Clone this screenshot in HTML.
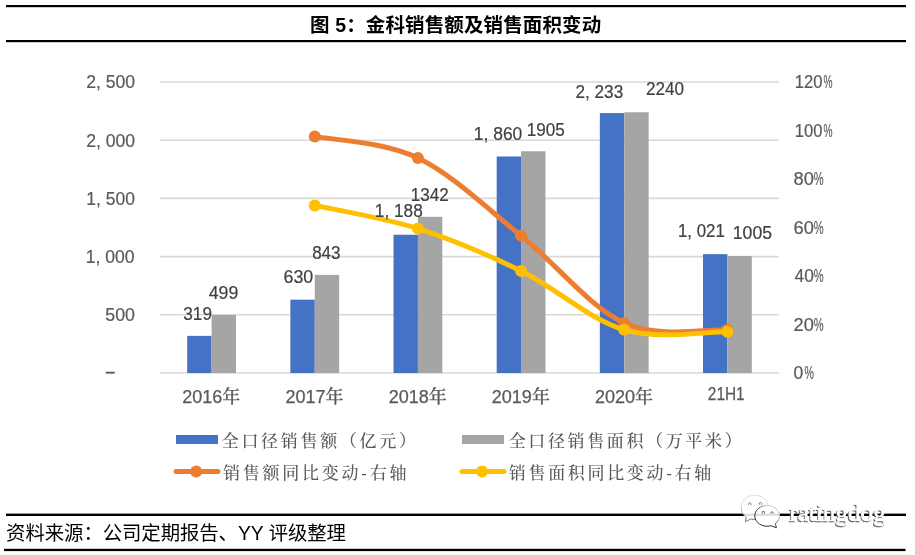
<!DOCTYPE html>
<html><head><meta charset="utf-8"><style>
html,body{margin:0;padding:0;background:#fff;}
body{width:915px;height:555px;overflow:hidden;position:relative;}
svg{position:absolute;left:0;top:0;will-change:transform;}
</style></head><body>
<svg width="915" height="555" viewBox="0 0 915 555">
<rect x="6" y="5" width="900" height="2.2" fill="#000"/>
<rect x="6" y="40" width="900" height="2.2" fill="#000"/>
<line x1="160.0" y1="82.00" x2="779.0" y2="82.00" stroke="#d9d9d9" stroke-width="1.6"/>
<line x1="160.0" y1="140.20" x2="779.0" y2="140.20" stroke="#d9d9d9" stroke-width="1.6"/>
<line x1="160.0" y1="198.40" x2="779.0" y2="198.40" stroke="#d9d9d9" stroke-width="1.6"/>
<line x1="160.0" y1="256.60" x2="779.0" y2="256.60" stroke="#d9d9d9" stroke-width="1.6"/>
<line x1="160.0" y1="314.80" x2="779.0" y2="314.80" stroke="#d9d9d9" stroke-width="1.6"/>
<line x1="160.0" y1="373.00" x2="779.0" y2="373.00" stroke="#d9d9d9" stroke-width="1.6"/>
<rect x="187.18" y="335.87" width="24.40" height="37.13" fill="#4472c4"/>
<rect x="211.58" y="314.92" width="24.40" height="58.08" fill="#a5a5a5"/>
<rect x="290.35" y="299.67" width="24.40" height="73.33" fill="#4472c4"/>
<rect x="314.75" y="274.87" width="24.40" height="98.13" fill="#a5a5a5"/>
<rect x="393.52" y="234.72" width="24.40" height="138.28" fill="#4472c4"/>
<rect x="417.92" y="216.79" width="24.40" height="156.21" fill="#a5a5a5"/>
<rect x="496.68" y="156.50" width="24.40" height="216.50" fill="#4472c4"/>
<rect x="521.08" y="151.26" width="24.40" height="221.74" fill="#a5a5a5"/>
<rect x="599.85" y="113.08" width="24.40" height="259.92" fill="#4472c4"/>
<rect x="624.25" y="112.26" width="24.40" height="260.74" fill="#a5a5a5"/>
<rect x="703.02" y="254.16" width="24.40" height="118.84" fill="#4472c4"/>
<rect x="727.42" y="256.02" width="24.40" height="116.98" fill="#a5a5a5"/>
<path d="M314.75,136.40 C331.94,140.00 383.53,141.45 417.92,158.00 C452.31,174.55 486.69,208.20 521.08,235.70 C555.47,263.20 589.86,307.32 624.25,323.00 C658.64,338.68 710.22,328.67 727.42,329.80" fill="none" stroke="#ed7d31" stroke-width="5" stroke-linecap="round" stroke-linejoin="round"/>
<circle cx="314.75" cy="136.40" r="6" fill="#ed7d31"/>
<circle cx="417.92" cy="158.00" r="6" fill="#ed7d31"/>
<circle cx="521.08" cy="235.70" r="6" fill="#ed7d31"/>
<circle cx="624.25" cy="323.00" r="6" fill="#ed7d31"/>
<circle cx="727.42" cy="329.80" r="6" fill="#ed7d31"/>
<path d="M314.75,205.40 C331.94,209.27 383.53,217.67 417.92,228.60 C452.31,239.53 486.69,254.13 521.08,271.00 C555.47,287.87 589.86,319.67 624.25,329.80 C658.64,339.93 710.22,331.47 727.42,331.80" fill="none" stroke="#ffc000" stroke-width="5" stroke-linecap="round" stroke-linejoin="round"/>
<circle cx="314.75" cy="205.40" r="6" fill="#ffc000"/>
<circle cx="417.92" cy="228.60" r="6" fill="#ffc000"/>
<circle cx="521.08" cy="271.00" r="6" fill="#ffc000"/>
<circle cx="624.25" cy="329.80" r="6" fill="#ffc000"/>
<circle cx="727.42" cy="331.80" r="6" fill="#ffc000"/>
<rect x="176" y="435" width="42" height="9" fill="#4472c4"/>
<rect x="462" y="435" width="42" height="9" fill="#a5a5a5"/>
<line x1="176" y1="471.6" x2="218" y2="471.6" stroke="#ed7d31" stroke-width="5" stroke-linecap="round"/>
<circle cx="196.2" cy="471.6" r="6" fill="#ed7d31"/>
<line x1="462" y1="471.6" x2="504" y2="471.6" stroke="#ffc000" stroke-width="5" stroke-linecap="round"/>
<circle cx="482" cy="471.6" r="6" fill="#ffc000"/>
<rect x="6" y="513.6" width="900" height="2.4" fill="#000"/>
<rect x="4" y="548.8" width="901.5" height="2.3" fill="#000"/>
<text x="788.4" y="521.7" font-size="25.5" fill="#555" stroke="#555" stroke-width="0.5" font-family="'Liberation Serif',serif" textLength="96.5" lengthAdjust="spacingAndGlyphs">ratingdog</text>
<text x="789.3" y="520.8" font-size="25.5" fill="#fff" stroke="#fff" stroke-width="0.6" font-family="'Liberation Serif',serif" textLength="96.5" lengthAdjust="spacingAndGlyphs">ratingdog</text>
<defs><linearGradient id="gs" x1="0" y1="1" x2="1" y2="0"><stop offset="0.45" stop-color="#303030"/><stop offset="0.75" stop-color="#c8c8c8"/></linearGradient></defs>
<g opacity="0.87" fill="#fff"><ellipse cx="754.8" cy="507.3" rx="13.7" ry="12.2"/><path d="M745.6,516.5 L745.5,521.8 L751,518.8 Z"/><ellipse cx="767.5" cy="515.8" rx="12.35" ry="10.4"/><path d="M771,525.6 L776.4,527.8 L775.6,522.6 Z"/></g>
<path d="M768.33,505.41 A13.7,12.2 0 0 0 741.1,507.3" fill="none" stroke="#d0d0d0" stroke-width="0.7"/>
<path d="M741.1,507.3 A13.7,12.2 0 0 0 746.2,516.9" fill="none" stroke="#a8a8a8" stroke-width="0.8"/>
<path d="M746.2,516.9 L745.5,521.8 L750.6,519 Q753,519.6 755.94,519.46" fill="none" stroke="#555" stroke-width="0.8"/>
<path d="M748.5,505.2 v-1 a1.25,1.3 0 0 1 2.5,0 v1 M759.2,504.8 v-1 a1.25,1.3 0 0 1 2.5,0 v1" fill="none" stroke="#666" stroke-width="0.8"/>
<path d="M775.4,523.6 A12.35,10.4 0 1 0 771.2,525.7 L776.4,527.8 Z" fill="none" stroke="url(#gs)" stroke-width="1"/>
<path d="M762.2,513.8 v-2.2 h2.3 v2.2 M770.8,513.6 v-0.6 a1.2,1.2 0 0 1 2.4,0 v0.6" fill="none" stroke="#555" stroke-width="0.8"/>
<text id="title" x="310.10" y="32.14" font-size="19.50" fill="#000" font-family="'Liberation Sans','Noto Sans CJK SC',sans-serif" font-weight="bold" textLength="291.08" lengthAdjust="spacing">图 5：金科销售额及销售面积变动</text>
<text id="foot" x="6.11" y="540.27" font-size="19.40" fill="#000" font-family="'Liberation Sans','Noto Sans CJK SC',sans-serif" textLength="339.89" lengthAdjust="spacing">资料来源：公司定期报告、YY 评级整理</text>
<text id="la0" x="86.16" y="88.14" font-size="18.80" fill="#595959" font-family="'Liberation Sans','Noto Sans CJK SC',sans-serif" textLength="49.00" lengthAdjust="spacingAndGlyphs" stroke="#595959" stroke-width="0.2">2, 500</text>
<text id="la1" x="86.16" y="146.94" font-size="18.80" fill="#595959" font-family="'Liberation Sans','Noto Sans CJK SC',sans-serif" textLength="49.00" lengthAdjust="spacingAndGlyphs" stroke="#595959" stroke-width="0.2">2, 000</text>
<text id="la2" x="86.35" y="204.74" font-size="18.80" fill="#595959" font-family="'Liberation Sans','Noto Sans CJK SC',sans-serif" textLength="48.50" lengthAdjust="spacingAndGlyphs" stroke="#595959" stroke-width="0.2">1, 500</text>
<text id="la3" x="85.78" y="262.54" font-size="18.80" fill="#595959" font-family="'Liberation Sans','Noto Sans CJK SC',sans-serif" textLength="48.71" lengthAdjust="spacingAndGlyphs" stroke="#595959" stroke-width="0.2">1, 000</text>
<text id="la4" x="105.29" y="321.34" font-size="18.80" fill="#595959" font-family="'Liberation Sans','Noto Sans CJK SC',sans-serif" textLength="29.70" lengthAdjust="spacingAndGlyphs" stroke="#595959" stroke-width="0.2">500</text>
<text id="la5" x="106.00" y="376.80" font-size="18.80" fill="#595959" font-family="'Liberation Sans','Noto Sans CJK SC',sans-serif" textLength="8.51" lengthAdjust="spacingAndGlyphs" stroke="#595959" stroke-width="0.6">–</text>
<text id="ra0" x="794.74" y="88.34" font-size="18.80" fill="#595959" font-family="'Liberation Sans','Noto Sans CJK SC',sans-serif" textLength="27.69" lengthAdjust="spacingAndGlyphs" stroke="#595959" stroke-width="0.2">120</text>
<text id="rp0" x="823.46" y="88.34" font-size="18.80" fill="#595959" font-family="'Liberation Sans','Noto Sans CJK SC',sans-serif" textLength="9.00" lengthAdjust="spacingAndGlyphs" stroke="#595959" stroke-width="0.2">%</text>
<text id="ra1" x="794.74" y="136.84" font-size="18.80" fill="#595959" font-family="'Liberation Sans','Noto Sans CJK SC',sans-serif" textLength="27.69" lengthAdjust="spacingAndGlyphs" stroke="#595959" stroke-width="0.2">100</text>
<text id="rp1" x="823.46" y="136.84" font-size="18.80" fill="#595959" font-family="'Liberation Sans','Noto Sans CJK SC',sans-serif" textLength="9.00" lengthAdjust="spacingAndGlyphs" stroke="#595959" stroke-width="0.2">%</text>
<text id="ra2" x="793.48" y="185.34" font-size="18.80" fill="#595959" font-family="'Liberation Sans','Noto Sans CJK SC',sans-serif" textLength="20.32" lengthAdjust="spacingAndGlyphs" stroke="#595959" stroke-width="0.2">80</text>
<text id="rp2" x="813.68" y="185.34" font-size="18.80" fill="#595959" font-family="'Liberation Sans','Noto Sans CJK SC',sans-serif" textLength="9.85" lengthAdjust="spacingAndGlyphs" stroke="#595959" stroke-width="0.2">%</text>
<text id="ra3" x="793.48" y="233.84" font-size="18.80" fill="#595959" font-family="'Liberation Sans','Noto Sans CJK SC',sans-serif" textLength="20.32" lengthAdjust="spacingAndGlyphs" stroke="#595959" stroke-width="0.2">60</text>
<text id="rp3" x="813.68" y="233.84" font-size="18.80" fill="#595959" font-family="'Liberation Sans','Noto Sans CJK SC',sans-serif" textLength="9.85" lengthAdjust="spacingAndGlyphs" stroke="#595959" stroke-width="0.2">%</text>
<text id="ra4" x="794.49" y="282.34" font-size="18.80" fill="#595959" font-family="'Liberation Sans','Noto Sans CJK SC',sans-serif" textLength="19.31" lengthAdjust="spacingAndGlyphs" stroke="#595959" stroke-width="0.2">40</text>
<text id="rp4" x="813.68" y="282.34" font-size="18.80" fill="#595959" font-family="'Liberation Sans','Noto Sans CJK SC',sans-serif" textLength="9.85" lengthAdjust="spacingAndGlyphs" stroke="#595959" stroke-width="0.2">%</text>
<text id="ra5" x="793.48" y="330.84" font-size="18.80" fill="#595959" font-family="'Liberation Sans','Noto Sans CJK SC',sans-serif" textLength="20.32" lengthAdjust="spacingAndGlyphs" stroke="#595959" stroke-width="0.2">20</text>
<text id="rp5" x="813.68" y="330.84" font-size="18.80" fill="#595959" font-family="'Liberation Sans','Noto Sans CJK SC',sans-serif" textLength="9.85" lengthAdjust="spacingAndGlyphs" stroke="#595959" stroke-width="0.2">%</text>
<text id="ra6" x="793.43" y="379.34" font-size="18.80" fill="#595959" font-family="'Liberation Sans','Noto Sans CJK SC',sans-serif" textLength="9.73" lengthAdjust="spacingAndGlyphs" stroke="#595959" stroke-width="0.2">0</text>
<text id="rp6" x="804.40" y="379.34" font-size="18.80" fill="#595959" font-family="'Liberation Sans','Noto Sans CJK SC',sans-serif" textLength="9.37" lengthAdjust="spacingAndGlyphs" stroke="#595959" stroke-width="0.2">%</text>
<text id="cat0" x="182.28" y="402.76" font-size="18.00" fill="#595959" font-family="'Liberation Sans','Noto Serif CJK SC',serif" font-weight="500" textLength="58.12" lengthAdjust="spacingAndGlyphs" stroke="#595959" stroke-width="0.25">2016年</text>
<text id="cat1" x="285.46" y="402.76" font-size="18.00" fill="#595959" font-family="'Liberation Sans','Noto Serif CJK SC',serif" font-weight="500" textLength="58.09" lengthAdjust="spacingAndGlyphs" stroke="#595959" stroke-width="0.25">2017年</text>
<text id="cat2" x="388.63" y="402.76" font-size="18.00" fill="#595959" font-family="'Liberation Sans','Noto Serif CJK SC',serif" font-weight="500" textLength="58.11" lengthAdjust="spacingAndGlyphs" stroke="#595959" stroke-width="0.25">2018年</text>
<text id="cat3" x="491.80" y="402.76" font-size="18.00" fill="#595959" font-family="'Liberation Sans','Noto Serif CJK SC',serif" font-weight="500" textLength="58.11" lengthAdjust="spacingAndGlyphs" stroke="#595959" stroke-width="0.25">2019年</text>
<text id="cat4" x="595.00" y="402.76" font-size="18.00" fill="#595959" font-family="'Liberation Sans','Noto Serif CJK SC',serif" font-weight="500" textLength="58.09" lengthAdjust="spacingAndGlyphs" stroke="#595959" stroke-width="0.25">2020年</text>
<text id="cat5" x="707.84" y="400.46" font-size="18.00" fill="#595959" font-family="'Liberation Sans','Noto Sans CJK SC',sans-serif" textLength="36.85" lengthAdjust="spacingAndGlyphs" stroke="#595959" stroke-width="0.25">21H1</text>
<text id="dl0" x="183.33" y="319.94" font-size="18.80" fill="#404040" font-family="'Liberation Sans','Noto Sans CJK SC',sans-serif" textLength="28.62" lengthAdjust="spacingAndGlyphs" stroke="#404040" stroke-width="0.2">319</text>
<text id="dl1" x="208.68" y="298.74" font-size="18.80" fill="#404040" font-family="'Liberation Sans','Noto Sans CJK SC',sans-serif" textLength="29.61" lengthAdjust="spacingAndGlyphs" stroke="#404040" stroke-width="0.2">499</text>
<text id="dl2" x="283.47" y="283.14" font-size="18.80" fill="#404040" font-family="'Liberation Sans','Noto Sans CJK SC',sans-serif" textLength="29.78" lengthAdjust="spacingAndGlyphs" stroke="#404040" stroke-width="0.2">630</text>
<text id="dl3" x="312.14" y="258.74" font-size="18.80" fill="#404040" font-family="'Liberation Sans','Noto Sans CJK SC',sans-serif" textLength="28.50" lengthAdjust="spacingAndGlyphs" stroke="#404040" stroke-width="0.2">843</text>
<text id="dl4" x="374.81" y="216.54" font-size="18.80" fill="#404040" font-family="'Liberation Sans','Noto Sans CJK SC',sans-serif" textLength="47.92" lengthAdjust="spacingAndGlyphs" stroke="#404040" stroke-width="0.2">1, 188</text>
<text id="dl5" x="410.77" y="201.34" font-size="18.80" fill="#404040" font-family="'Liberation Sans','Noto Sans CJK SC',sans-serif" textLength="37.85" lengthAdjust="spacingAndGlyphs" stroke="#404040" stroke-width="0.2">1342</text>
<text id="dl6" x="473.79" y="140.04" font-size="18.80" fill="#404040" font-family="'Liberation Sans','Noto Sans CJK SC',sans-serif" textLength="48.51" lengthAdjust="spacingAndGlyphs" stroke="#404040" stroke-width="0.2">1, 860</text>
<text id="dl7" x="526.78" y="135.94" font-size="18.80" fill="#404040" font-family="'Liberation Sans','Noto Sans CJK SC',sans-serif" textLength="38.08" lengthAdjust="spacingAndGlyphs" stroke="#404040" stroke-width="0.2">1905</text>
<text id="dl8" x="575.40" y="97.64" font-size="18.80" fill="#404040" font-family="'Liberation Sans','Noto Sans CJK SC',sans-serif" textLength="47.80" lengthAdjust="spacingAndGlyphs" stroke="#404040" stroke-width="0.2">2, 233</text>
<text id="dl9" x="645.92" y="94.64" font-size="18.80" fill="#404040" font-family="'Liberation Sans','Noto Sans CJK SC',sans-serif" textLength="38.17" lengthAdjust="spacingAndGlyphs" stroke="#404040" stroke-width="0.2">2240</text>
<text id="dl10" x="677.96" y="237.14" font-size="18.80" fill="#404040" font-family="'Liberation Sans','Noto Sans CJK SC',sans-serif" textLength="46.84" lengthAdjust="spacingAndGlyphs" stroke="#404040" stroke-width="0.2">1, 021</text>
<text id="dl11" x="732.75" y="239.04" font-size="18.80" fill="#404040" font-family="'Liberation Sans','Noto Sans CJK SC',sans-serif" textLength="39.26" lengthAdjust="spacingAndGlyphs" stroke="#404040" stroke-width="0.2">1005</text>
<text id="lg1" x="221.69" y="446.92" font-size="17.00" fill="#595959" font-family="'Liberation Sans','Noto Serif CJK SC',serif" font-weight="500" textLength="194.22" lengthAdjust="spacing">全口径销售额（亿元）</text>
<text id="lg2" x="508.63" y="446.92" font-size="17.00" fill="#595959" font-family="'Liberation Sans','Noto Serif CJK SC',serif" font-weight="500" textLength="233.02" lengthAdjust="spacing">全口径销售面积（万平米）</text>
<text id="lg3" x="222.92" y="478.52" font-size="17.00" fill="#595959" font-family="'Liberation Sans','Noto Serif CJK SC',serif" font-weight="500" textLength="183.56" lengthAdjust="spacing">销售额同比变动-右轴</text>
<text id="lg4" x="508.85" y="478.52" font-size="17.00" fill="#595959" font-family="'Liberation Sans','Noto Serif CJK SC',serif" font-weight="500" textLength="202.29" lengthAdjust="spacing">销售面积同比变动-右轴</text>
</svg>
</body></html>
